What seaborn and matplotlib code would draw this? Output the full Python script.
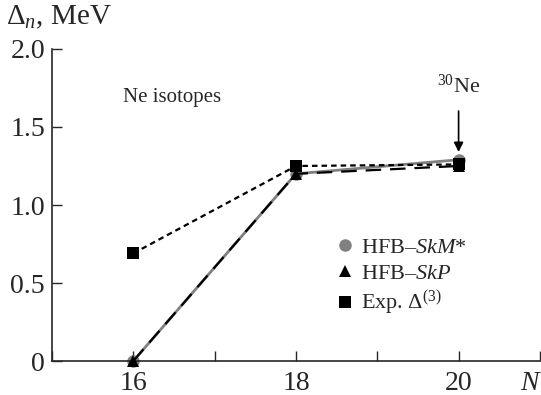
import matplotlib
matplotlib.use("Agg")
import matplotlib.pyplot as plt
from matplotlib.lines import Line2D
import seaborn as sns
import pandas as pd

# Neutron pairing gaps for Ne isotopes
neutrons = [16, 18, 20]
gap_skm = [0.0, 1.20, 1.29]
gap_skp = [0.0, 1.20, 1.25]
gap_exp = [0.69, 1.25, 1.26]
series_labels = ["HFB\u2013$\\mathit{SkM}$*", "HFB\u2013$\\mathit{SkP}$", "Exp. $\\Delta^{(3)}$"]
x_ticks = [15, 16, 17, 18, 19, 20, 21]
x_tick_labels = ["", "16", "", "18", "", "20", ""]
y_ticks = [0, 0.5, 1.0, 1.5, 2.0]
y_tick_labels = ["0", "0.5", "1.0", "1.5", "2.0"]

sns.set_style("ticks")
plt.rcParams["font.family"] = ["Liberation Serif", "DejaVu Serif"]
plt.rcParams["mathtext.fontset"] = "custom"
plt.rcParams["mathtext.rm"] = "Liberation Serif"
plt.rcParams["mathtext.it"] = "Liberation Serif:italic"

fig = plt.figure(figsize=(5.41, 3.95), dpi=100)
ax = fig.add_axes([0.096, 0.086, 0.902, 0.79])

df = pd.DataFrame({"N": neutrons, "skm": gap_skm, "skp": gap_skp, "exp": gap_exp})

sns.lineplot(data=df, x="N", y="skm", ax=ax, color="#808080", lw=2.0,
             marker="o", markersize=9, markeredgewidth=0, zorder=2, clip_on=False)
sns.lineplot(data=df, x="N", y="skp", ax=ax, color="black", lw=1.6,
             linestyle=(0, (7, 4)), marker="^", markersize=9,
             markeredgewidth=0, zorder=3, clip_on=False)
sns.lineplot(data=df, x="N", y="exp", ax=ax, color="black", lw=1.6,
             linestyle=(0, (2.5, 1.8)), marker="s", markersize=8.5,
             markeredgewidth=0, zorder=4, clip_on=False)

ax.set_xlim(15, 21)
ax.set_ylim(0, 2.0)
ax.set_xticks(x_ticks)
ax.set_xticklabels(x_tick_labels)
ax.set_yticks(y_ticks)
ax.set_yticklabels(y_tick_labels)
ax.tick_params(direction="in", length=7, width=1, labelsize=20)
ax.tick_params(axis="x", pad=7)
ax.tick_params(axis="y", pad=5)
ax.set_xlabel("")
ax.set_ylabel("")
sns.despine(ax=ax)
for s in ("left", "bottom"):
    ax.spines[s].set_linewidth(1.2)

fig.text(0.012, 0.955, "$\\Delta_n$, MeV", fontsize=21, va="center", ha="left")
fig.text(0.982, 0.03, "$N$", fontsize=20, va="center", ha="center")

ax.text(15.87, 1.69, "Ne isotopes", fontsize=15, va="center", ha="left")
ax.annotate("$^{30}$Ne", xy=(20, 1.34), xytext=(20, 1.76),
            fontsize=16, ha="center", va="center",
            arrowprops=dict(arrowstyle="-|>", color="black", lw=1.2,
                            mutation_scale=14, shrinkA=7, shrinkB=0))

handles = [
    Line2D([], [], color="#808080", marker="o", ls="none", markersize=9, markeredgewidth=0),
    Line2D([], [], color="black", marker="^", ls="none", markersize=9, markeredgewidth=0),
    Line2D([], [], color="black", marker="s", ls="none", markersize=8, markeredgewidth=0),
]
ax.legend(handles, series_labels, loc="upper left", bbox_to_anchor=(0.601, 0.428),
          bbox_transform=fig.transFigure, frameon=False, fontsize=16,
          handlelength=0.8, handletextpad=0.3, labelspacing=0.25, borderpad=0)

fig.savefig("out.png", dpi=100)
